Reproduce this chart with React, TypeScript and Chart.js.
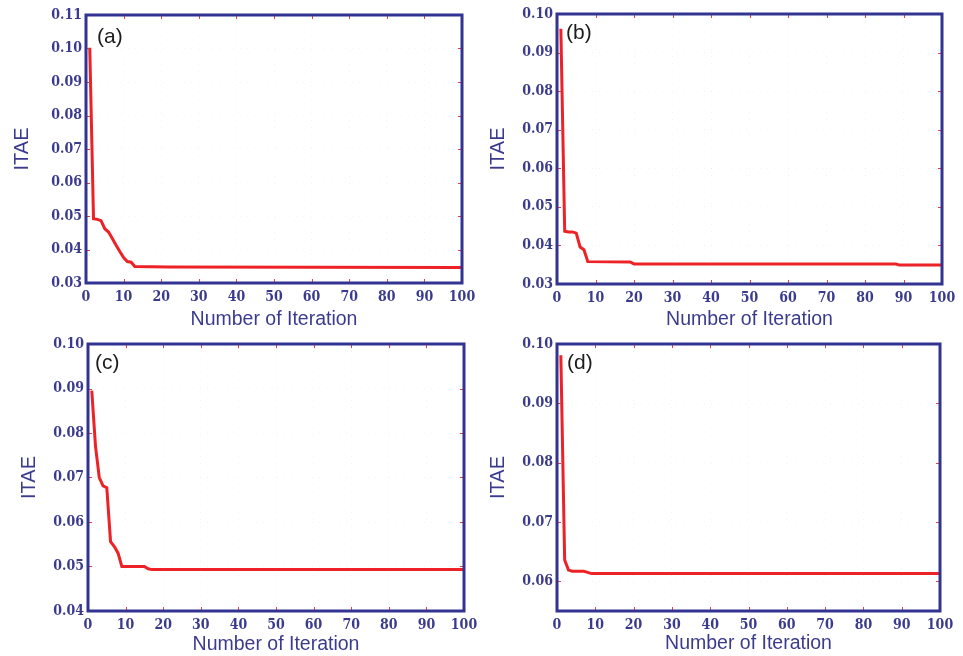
import React, { useEffect, useRef } from 'react';
import { Chart, registerables } from 'chart.js';
Chart.register(...registerables);

// ---- data ----
const iterA = [1, 2, 3, 4, 5, 6, 7, 8, 9, 10, 11, 12, 13, 22, 100];
const itaeA = [0.1002, 0.0492, 0.049, 0.0486, 0.0462, 0.0452, 0.0433, 0.0413, 0.0394, 0.0376, 0.0364, 0.0362, 0.0349, 0.0348, 0.0346];

const iterB = [1, 2, 3, 4, 5, 6, 7, 8, 19, 20, 88, 89, 100];
const itaeB = [0.0962, 0.0437, 0.0435, 0.0435, 0.0432, 0.0396, 0.0389, 0.0358, 0.0357, 0.0352, 0.0352, 0.0349, 0.0349];

const iterC = [1, 2, 3, 4, 5, 6, 7, 8, 9, 15, 16, 17, 100];
const itaeC = [0.0895, 0.077, 0.07, 0.0681, 0.0677, 0.0556, 0.0545, 0.053, 0.05, 0.05, 0.0495, 0.0493, 0.0493];

const iterD = [1, 2, 3, 4, 7, 8, 9, 100];
const itaeD = [0.0981, 0.0636, 0.0619, 0.0617, 0.0617, 0.0615, 0.0613, 0.0613];

const xTicksStep = 10;
const xMin = 0;
const xMax = 100;
const yAxisTitle = 'ITAE';
const xAxisTitle = 'Number of Iteration';

const TEXT = '#3b3b8e';
const BORDER = '#333391';
const RED = '#ec2227';
const TICK_FONT = '"DejaVu Serif Condensed", "DejaVu Serif", "Liberation Serif", serif';

const framePlugin = {
  id: 'frame',
  afterDatasetsDraw(chart: any, _args: any, opts: any) {
    const { ctx, chartArea: a, scales } = chart;
    ctx.save();
    ctx.strokeStyle = '#e04040';
    ctx.lineWidth = 1;
    const L = 4;
    scales.x.ticks.forEach((t: any) => {
      const px = Math.round(scales.x.getPixelForValue(t.value)) + 0.5;
      ctx.beginPath();
      ctx.moveTo(px, a.top);
      ctx.lineTo(px, a.top + L);
      ctx.moveTo(px, a.bottom);
      ctx.lineTo(px, a.bottom - L);
      ctx.stroke();
    });
    scales.y.ticks.forEach((t: any) => {
      const py = Math.round(scales.y.getPixelForValue(t.value)) + 0.5;
      ctx.beginPath();
      ctx.moveTo(a.right, py);
      ctx.lineTo(a.right - L, py);
      ctx.moveTo(a.left, py);
      ctx.lineTo(a.left + L, py);
      ctx.stroke();
    });
    ctx.strokeStyle = BORDER;
    ctx.lineWidth = 3;
    ctx.strokeRect(a.left, a.top, a.right - a.left, a.bottom - a.top);
    ctx.fillStyle = '#1c1c1c';
    ctx.font = '21px "Liberation Sans", Arial, sans-serif';
    ctx.textBaseline = 'middle';
    ctx.textAlign = 'left';
    ctx.fillText(opts.text, a.left + opts.dx, a.top + opts.dy);
    ctx.restore();
  },
};

type PanelProps = {
  left: number; top: number; width: number; height: number;
  area: { l: number; r: number; t: number; b: number };
  yMin: number; yMax: number;
  iters: number[]; values: number[];
  label: string; labelDx: number; labelDy: number;
  yTitlePad: number; xTitlePad: number;
};

function Panel(p: PanelProps) {
  const ref = useRef<HTMLCanvasElement | null>(null);
  useEffect(() => {
    if (!ref.current) return;
    const points = p.iters.map((x, i) => ({ x, y: p.values[i] }));
    const chart = new Chart(ref.current, {
      type: 'line',
      data: {
        datasets: [
          {
            data: points,
            borderColor: RED,
            borderWidth: 3,
            pointRadius: 0,
            tension: 0,
            fill: false,
          },
        ],
      },
      options: {
        animation: false,
        responsive: false,
        devicePixelRatio: 1,
        layout: { padding: { top: p.area.t, right: p.width - p.area.r, left: 0, bottom: 0 } },
        plugins: {
          legend: { display: false },
          tooltip: { enabled: false },
          frame: { text: p.label, dx: p.labelDx, dy: p.labelDy },
        } as any,
        scales: {
          x: {
            type: 'linear',
            min: xMin,
            max: xMax,
            border: { display: false, dash: [1, 6] },
            grid: { color: 'rgba(0,0,0,0.045)', drawTicks: false },
            ticks: {
              stepSize: xTicksStep,
              color: TEXT,
              padding: 6,
              maxRotation: 0,
              autoSkip: false,
              font: { family: TICK_FONT, size: 14, weight: 'bold' },
            },
            title: {
              display: true,
              text: xAxisTitle,
              color: TEXT,
              padding: { top: 0, bottom: p.xTitlePad },
              font: { family: '"Liberation Sans", Arial, sans-serif', size: 19.5, lineHeight: 1 },
            },
            afterFit: (s: any) => {
              s.height = p.height - p.area.b;
              s.paddingLeft = 0;
              s.paddingRight = 0;
            },
          },
          y: {
            type: 'linear',
            min: p.yMin,
            max: p.yMax,
            border: { display: false, dash: [1, 6] },
            grid: { color: 'rgba(0,0,0,0.045)', drawTicks: false },
            ticks: {
              stepSize: 0.01,
              color: TEXT,
              padding: 4,
              autoSkip: false,
              font: { family: TICK_FONT, size: 14, weight: 'bold' },
              callback: (v: any) => {
                const r = Math.round(v * 100);
                return Math.abs(v * 100 - r) < 1e-6 ? (r / 100).toFixed(2) : '';
              },
            },
            title: {
              display: true,
              text: yAxisTitle,
              color: TEXT,
              padding: { top: p.yTitlePad, bottom: 0 },
              font: { family: '"Liberation Sans", Arial, sans-serif', size: 20, lineHeight: 1 },
            },
            afterFit: (s: any) => {
              s.width = p.area.l;
              s.paddingTop = 0;
              s.paddingBottom = 0;
            },
          },
        },
      },
      plugins: [framePlugin],
    } as any);
    return () => chart.destroy();
  }, []);
  return (
    <canvas
      ref={ref}
      width={p.width}
      height={p.height}
      style={{ position: 'absolute', left: p.left, top: p.top, width: p.width, height: p.height }}
    />
  );
}

export default function App() {
  return (
    <div style={{ position: 'absolute', left: 0, top: 0, width: 963, height: 656, background: '#fff' }}>
      <Panel left={0} top={0} width={480} height={330} area={{ l: 86, r: 462, t: 15, b: 283 }}
        yMin={0.03} yMax={0.11} iters={iterA} values={itaeA} label="(a)" labelDx={11} labelDy={22}
        yTitlePad={12} xTitlePad={0.5} />
      <Panel left={480} top={0} width={483} height={330} area={{ l: 77, r: 462, t: 14, b: 284 }}
        yMin={0.03} yMax={0.1} iters={iterB} values={itaeB} label="(b)" labelDx={9} labelDy={19}
        yTitlePad={8} xTitlePad={0.5} />
      <Panel left={0} top={330} width={480} height={326} area={{ l: 88, r: 464, t: 14, b: 281 }}
        yMin={0.04} yMax={0.1} iters={iterC} values={itaeC} label="(c)" labelDx={7} labelDy={19}
        yTitlePad={19} xTitlePad={1.5} />
      <Panel left={480} top={330} width={483} height={326} area={{ l: 77, r: 460, t: 14, b: 281 }}
        yMin={0.055} yMax={0.1} iters={iterD} values={itaeD} label="(d)" labelDx={10} labelDy={19}
        yTitlePad={8} xTitlePad={3} />
    </div>
  );
}
